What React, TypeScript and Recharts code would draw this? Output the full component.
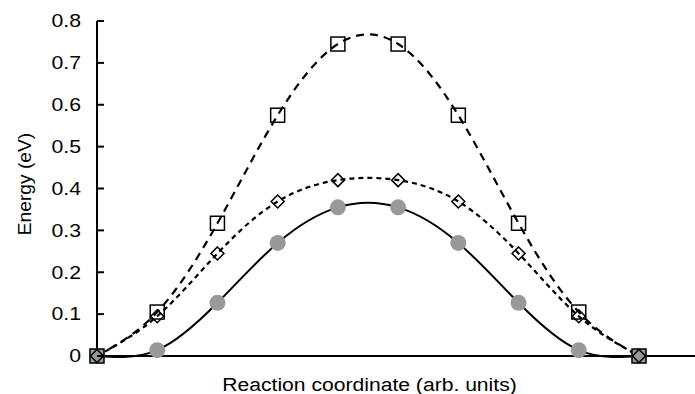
import { LineChart, Line, XAxis, YAxis, Label } from 'recharts';

const steps = [0, 1, 2, 3, 4, 5, 6, 7, 8, 9];
const squareEnergy = [0, 0.105, 0.317, 0.575, 0.745, 0.745, 0.575, 0.317, 0.105, 0];
const diamondEnergy = [0, 0.095, 0.245, 0.369, 0.42, 0.42, 0.369, 0.245, 0.095, 0];
const circleEnergy = [0, 0.014, 0.127, 0.27, 0.355, 0.355, 0.27, 0.127, 0.014, 0];
const yTicks = [0, 0.1, 0.2, 0.3, 0.4, 0.5, 0.6, 0.7, 0.8];

const data = steps.map((s, i) => ({
  step: s,
  square: squareEnergy[i],
  diamond: diamondEnergy[i],
  circle: circleEnergy[i],
}));

const FONT = 'Liberation Sans, Arial, Helvetica, sans-serif';
const AXIS_X = 97;
const GRAY = '#999999';
const lastStep = steps[steps.length - 1];

const YTick = (props: any) => {
  const { y, payload } = props;
  return (
    <g>
      <line x1={AXIS_X} x2={AXIS_X + 7} y1={y} y2={y} stroke="#000" strokeWidth={2} />
      <text
        transform={`translate(81,${y + 6.3}) scale(1.2,1)`}
        textAnchor="end"
        fontSize={17.7}
        fontFamily={FONT}
        fill="#000"
      >
        {payload.value === 0 ? '0' : payload.value.toFixed(1)}
      </text>
    </g>
  );
};

const SquareDot = (props: any) => {
  const { cx, cy, payload } = props;
  if (cx == null || cy == null) return null;
  const end = payload.step === 0 || payload.step === lastStep;
  return (
    <rect
      x={cx - 7}
      y={cy - 7}
      width={14}
      height={14}
      fill={end ? GRAY : 'none'}
      stroke="#000"
      strokeWidth={1.5}
    />
  );
};

const DiamondDot = (props: any) => {
  const { cx, cy } = props;
  if (cx == null || cy == null) return null;
  return (
    <path
      d={`M${cx},${cy - 6.5} L${cx + 6.5},${cy} L${cx},${cy + 6.5} L${cx - 6.5},${cy} Z`}
      fill="none"
      stroke="#000"
      strokeWidth={1.5}
    />
  );
};

const CircleDot = (props: any) => {
  const { cx, cy } = props;
  if (cx == null || cy == null) return null;
  return <circle cx={cx} cy={cy} r={8} fill={GRAY} />;
};

const XTitle = () => (
  <text
    transform="translate(369.5,391) scale(1.1,1)"
    textAnchor="middle"
    fontSize={19.2}
    fontFamily={FONT}
    fill="#000"
  >
    Reaction coordinate (arb. units)
  </text>
);

const YTitle = () => (
  <text
    transform="translate(31,184) rotate(-90)"
    textAnchor="middle"
    fontSize={19.2}
    fontFamily={FONT}
    fill="#000"
  >
    Energy (eV)
  </text>
);

export default function App() {
  return (
    <div style={{ position: 'absolute', left: 0, top: 0, background: '#fff' }}>
      <LineChart width={695} height={394} data={data} margin={{ top: 21, right: 0, left: 0, bottom: 0 }}>
        <XAxis
          dataKey="step"
          type="number"
          domain={[0, 9.93]}
          tick={false}
          tickLine={false}
          height={38}
          axisLine={{ stroke: '#000', strokeWidth: 2 }}
        >
          <Label content={<XTitle />} />
        </XAxis>
        <YAxis
          type="number"
          domain={[0, 0.8]}
          ticks={yTicks}
          width={AXIS_X}
          tickLine={false}
          tick={<YTick />}
          axisLine={{ stroke: '#000', strokeWidth: 2 }}
        >
          <Label content={<YTitle />} />
        </YAxis>
        <Line
          type="natural"
          dataKey="circle"
          stroke="#000"
          strokeWidth={2}
          dot={<CircleDot />}
          activeDot={false}
          isAnimationActive={false}
        />
        <Line
          type="natural"
          dataKey="square"
          stroke="#000"
          strokeWidth={2.2}
          strokeDasharray="8 6"
          dot={<SquareDot />}
          activeDot={false}
          isAnimationActive={false}
        />
        <Line
          type="natural"
          dataKey="diamond"
          stroke="#000"
          strokeWidth={2.2}
          strokeDasharray="5 4"
          dot={<DiamondDot />}
          activeDot={false}
          isAnimationActive={false}
        />
      </LineChart>
    </div>
  );
}
